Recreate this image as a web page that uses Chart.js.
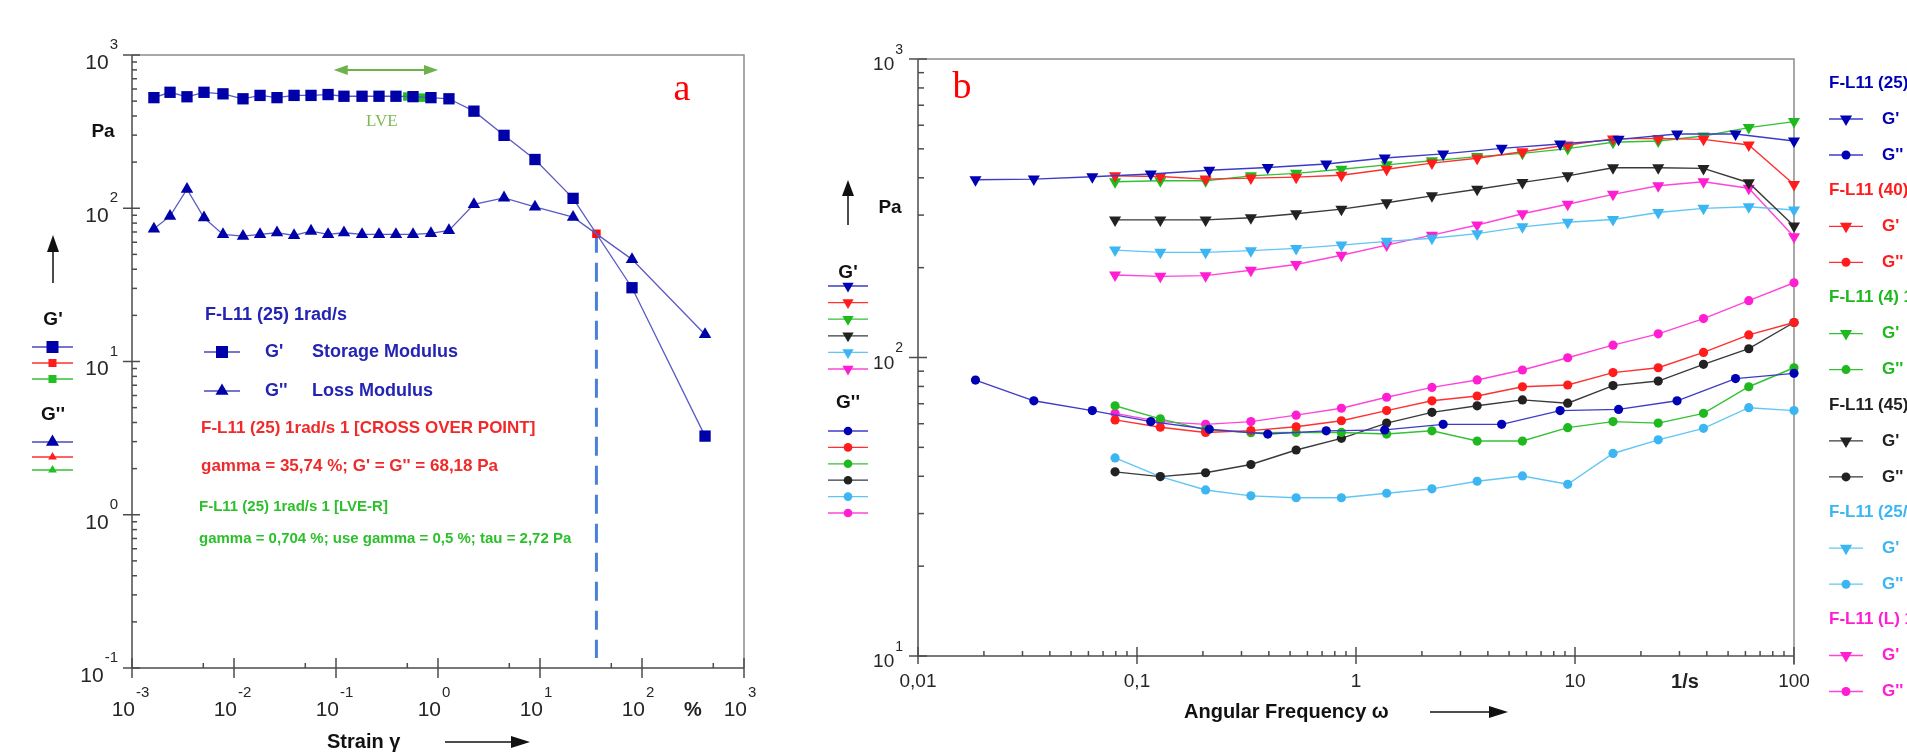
<!DOCTYPE html>
<html>
<head>
<meta charset="utf-8">
<script src="https://cdn.jsdelivr.net/npm/chart.js@4/dist/chart.umd.min.js"></script>
<style>
html, body { margin: 0; padding: 0; background: #fff; overflow: hidden; }
#ca { position: absolute; left: 0; top: 0; }
#cb { position: absolute; left: 810px; top: 0; }
</style>
</head>
<body>
<canvas id="ca" width="810" height="755"></canvas>
<canvas id="cb" width="1097" height="755"></canvas>
<script>
// ---- panel a: amplitude sweep (strain %, Pa)
const strain = [0.00164, 0.00236, 0.00346, 0.00508, 0.0078, 0.01225, 0.018, 0.0264, 0.0388, 0.0569, 0.0836, 0.1197,
  0.18, 0.264, 0.387, 0.569, 0.853, 1.28, 2.25, 4.44, 8.93, 21.1, 79.8, 415];
const storageMod = [527, 571, 534, 571, 558, 518, 545, 527, 545, 545, 552, 538,
  538, 538, 538, 535, 527, 518, 430, 299, 208, 116, 30.3, 3.26];
const lossMod = [73.4, 88.8, 133, 86.7, 67.5, 65.8, 67.5, 69.2, 66.5, 71, 67.5, 69.2,
  67.5, 67.5, 67.5, 67.5, 68.5, 71.6, 106, 117, 102, 87.5, 46.4, 15];
const crossStrain = [35.74];
const crossG = [68.18];
const lveStrain = [0.5, 0.704];
const lveG = [536, 527];
const lveRange = [0.095, 1];
const expAx = [-3, -2, -1, 0, 1, 2, 3];
const expAy = [-1, 0, 1, 2, 3];

// ---- panel b: frequency sweep (1/s, Pa)
const freq25 = [0.0183, 0.0338, 0.0625, 0.1156, 0.2138, 0.3954, 0.7311, 1.352, 2.5, 4.624, 8.551, 15.81, 29.24, 54.08, 100];
const freq = [0.0794, 0.1278, 0.2057, 0.3311, 0.5329, 0.8577, 1.38, 2.222, 3.575, 5.754, 9.261, 14.91, 23.99, 38.61, 62.15, 100];
const samples = ["F-L11 (25) 1", "F-L11 (40) 1", "F-L11 (4) 1", "F-L11 (45) 1", "F-L11 (25/45) 1", "F-L11 (L) 1"];
const gp25 = [394, 396, 403, 412, 424, 433, 445, 466, 481, 502, 519, 538, 561, 561, 531];
const gpp25 = [84, 71.6, 66.4, 61, 57.5, 55.4, 56.8, 57.2, 59.7, 59.7, 66.4, 67, 71.6, 85, 88.5];
const gp40 = [406, 404, 396, 399, 402, 408, 427, 448, 465, 489, 515, 540, 542, 538, 515, 380];
const gpp40 = [61.8, 58.4, 56.1, 56.9, 58.6, 61.4, 66.4, 71.6, 74.3, 79.8, 80.9, 89, 92.4, 104, 119, 131];
const gp4 = [388, 391, 391, 406, 414, 427, 442, 456, 471, 483, 501, 526, 531, 552, 589, 617];
const gpp4 = [68.9, 62.3, 57.2, 56, 56.1, 56.1, 55.4, 56.8, 52.5, 52.5, 58.2, 61, 60.3, 65, 79.8, 92.4];
const gp45 = [289, 289, 289, 294, 303, 314, 330, 348, 366, 386, 406, 432, 432, 430, 385, 276];
const gpp45 = [41.4, 39.9, 41.1, 43.8, 49, 53.6, 60.3, 65.5, 68.9, 72.1, 70.3, 80.5, 83.4, 94.9, 107, 131];
const gp2545 = [229, 225, 225, 228, 232, 238, 245, 251, 260, 274, 284, 290, 306, 316, 320, 312];
const gpp2545 = [46.1, 39.9, 36, 34.4, 33.9, 33.9, 35.1, 36.3, 38.5, 40.1, 37.6, 47.7, 53, 57.9, 67.9, 66.4];
const gpL = [189, 187, 188, 196, 205, 220, 238, 257, 278, 303, 326, 352, 376, 388, 369, 254];
const gppL = [65, 61, 59.7, 61, 64.1, 67.6, 73.6, 79.4, 84.1, 90.8, 99.8, 110, 120, 135, 155, 178];
const decB = [0.01, 0.1, 1, 10, 100];
const labB = ["0,01", "0,1", "1", "10", "100"];
const expBy = [1, 2, 3];

const FONT = '"Liberation Sans", Arial, sans-serif';
const SERIF = '"Liberation Serif", "Times New Roman", serif';
const markC = ["#0000b4", "#ff1c1c", "#1fb81f", "#222222", "#3cb6f2", "#ff1ed2"];
const lineC = ["#3c3cc8", "#ff3030", "#34c234", "#3a3a3a", "#62c6f4", "#ff44da"];
const LBL = "#262626";

const pts = (xs, ys) => xs.map((x, i) => ({x: x, y: ys[i]}));

function seg(ctx, x1, y1, x2, y2) {
  ctx.beginPath(); ctx.moveTo(x1, y1); ctx.lineTo(x2, y2); ctx.stroke();
}
function head(ctx, x1, y1, x2, y2, len, half) {
  const a = Math.atan2(y2 - y1, x2 - x1);
  const bx = x2 - Math.cos(a) * len, by = y2 - Math.sin(a) * len;
  ctx.beginPath();
  ctx.moveTo(x2, y2);
  ctx.lineTo(bx + Math.sin(a) * half, by - Math.cos(a) * half);
  ctx.lineTo(bx - Math.sin(a) * half, by + Math.cos(a) * half);
  ctx.closePath(); ctx.fill();
}
function arrow(ctx, x1, y1, x2, y2, color, len, half, lw) {
  ctx.strokeStyle = color; ctx.fillStyle = color; ctx.lineWidth = lw;
  seg(ctx, x1, y1, x2 - (x2 - x1) * 0.1, y2 - (y2 - y1) * 0.1);
  head(ctx, x1, y1, x2, y2, len, half);
}
function txt(ctx, s, x, y, font, color, align) {
  ctx.font = font; ctx.fillStyle = color;
  ctx.textAlign = align || "left"; ctx.textBaseline = "middle";
  ctx.fillText(s, x, y);
}
function mark(ctx, style, x, y, r, color) {
  ctx.fillStyle = color; ctx.beginPath();
  if (style === "rect") ctx.rect(x - r, y - r, 2 * r, 2 * r);
  else if (style === "tri") { ctx.moveTo(x, y - r); ctx.lineTo(x + r * 0.87, y + r / 2); ctx.lineTo(x - r * 0.87, y + r / 2); ctx.closePath(); }
  else if (style === "down") { ctx.moveTo(x, y + r); ctx.lineTo(x + r * 0.87, y - r / 2); ctx.lineTo(x - r * 0.87, y - r / 2); ctx.closePath(); }
  else ctx.arc(x, y, r, 0, Math.PI * 2);
  ctx.fill();
}
function legendRow(ctx, x1, x2, y, color, lineColor, style, r) {
  ctx.strokeStyle = lineColor; ctx.lineWidth = 1.3;
  seg(ctx, x1, y, x2, y);
  mark(ctx, style, (x1 + x2) / 2, y, r, color);
}
// 10 with superscript exponent, right aligned group
function powY(ctx, e, xr, y, big, small, dyBase, dyExp) {
  ctx.font = small;
  const w = ctx.measureText(String(e)).width;
  txt(ctx, String(e), xr - w, y + dyExp, small, LBL, "left");
  txt(ctx, "10", xr - w - 1, y + dyBase, big, LBL, "right");
}

// ---------------- panel a ----------------
const frameA = {
  id: "frameA",
  beforeDatasetsDraw(chart) {
    const {ctx, chartArea: a, scales: {x, y}} = chart;
    ctx.save();
    ctx.lineWidth = 1.5;
    ctx.strokeStyle = "#8c8c8c";
    ctx.beginPath(); ctx.moveTo(a.left, a.top); ctx.lineTo(a.right, a.top); ctx.lineTo(a.right, a.bottom); ctx.stroke();
    ctx.strokeStyle = "#4c4c4c";
    ctx.beginPath(); ctx.moveTo(a.left, a.top); ctx.lineTo(a.left, a.bottom); ctx.lineTo(a.right, a.bottom); ctx.stroke();
    expAy.forEach(e => {
      const py = y.getPixelForValue(Math.pow(10, e));
      seg(ctx, a.left - 9, py, a.left + 8, py);
      if (e < 3) for (let m = 2; m < 10; m++) {
        const q = y.getPixelForValue(m * Math.pow(10, e));
        seg(ctx, a.left, q, a.left + 5, q);
      }
      powY(ctx, e, 118, py, "21px " + FONT, "15px " + FONT, 8, -10);
    });
    expAx.forEach(e => {
      const px = x.getPixelForValue(Math.pow(10, e));
      seg(ctx, px, a.bottom - 10, px, a.bottom + 10);
      if (e < 3) {
        const q = x.getPixelForValue(5 * Math.pow(10, e));
        seg(ctx, q, a.bottom - 5, q, a.bottom);
      }
      txt(ctx, "10", px + 3, 710, "21px " + FONT, LBL, "right");
      txt(ctx, String(e), px + 4, 693, "15px " + FONT, LBL, "left");
    });
    // crossover guide
    const cx = x.getPixelForValue(crossStrain[0]);
    ctx.strokeStyle = "#4a80d8"; ctx.lineWidth = 3; ctx.setLineDash([19, 10]);
    seg(ctx, cx, y.getPixelForValue(crossG[0]), cx, a.bottom - 10);
    ctx.setLineDash([]);
    ctx.restore();
  },
  afterDatasetsDraw(chart) {
    const {ctx, scales: {x}} = chart;
    ctx.save();
    // LVE range arrow
    const l1 = x.getPixelForValue(lveRange[0]), l2 = x.getPixelForValue(lveRange[1]);
    ctx.strokeStyle = "#6db24a"; ctx.fillStyle = "#6db24a"; ctx.lineWidth = 2;
    seg(ctx, l1 + 8, 70, l2 - 8, 70);
    head(ctx, l2, 70, l1, 70, 14, 5);
    head(ctx, l1, 70, l2, 70, 14, 5);
    txt(ctx, "LVE", (l1 + l2) / 2 - 4, 122, "17px " + SERIF, "#7cba55", "center");
    txt(ctx, "a", 682, 90, "38px " + SERIF, "#ff0000", "center");
    // axis captions
    txt(ctx, "Pa", 103, 132, "bold 19px " + FONT, "#111", "center");
    txt(ctx, "%", 693, 710, "bold 20px " + FONT, "#222", "center");
    txt(ctx, "Strain \u03b3", 327, 742, "bold 20px " + FONT, "#111", "left");
    arrow(ctx, 445, 742, 530, 742, "#111", 19, 6, 1.5);
    arrow(ctx, 53, 283, 53, 235, "#111", 17, 6, 1.5);
    // left legend
    txt(ctx, "G'", 53, 320, "bold 19px " + FONT, "#111", "center");
    legendRow(ctx, 32, 73, 347, "#0000a8", "#4848c0", "rect", 6);
    legendRow(ctx, 32, 73, 363, "#ff1c1c", "#ff3030", "rect", 4);
    legendRow(ctx, 32, 73, 379, "#1fc01f", "#34c234", "rect", 4);
    txt(ctx, "G''", 53, 415, "bold 19px " + FONT, "#111", "center");
    legendRow(ctx, 32, 73, 442, "#0000a8", "#4848c0", "tri", 7.5);
    legendRow(ctx, 32, 73, 457, "#ff1c1c", "#ff3030", "tri", 5);
    legendRow(ctx, 32, 73, 470, "#1fc01f", "#34c234", "tri", 5);
    // inner legend / annotations
    const blue = "#2424b4", red = "#f02a2a", green = "#2cc02c";
    txt(ctx, "F-L11 (25) 1rad/s", 205, 315, "bold 18px " + FONT, blue);
    legendRow(ctx, 204, 240, 352, "#0000a8", "#4848c0", "rect", 6);
    txt(ctx, "G'", 265, 352, "bold 18px " + FONT, blue);
    txt(ctx, "Storage Modulus", 312, 352, "bold 18px " + FONT, blue);
    legendRow(ctx, 204, 240, 391, "#0000a8", "#4848c0", "tri", 7.5);
    txt(ctx, "G''", 265, 391, "bold 18px " + FONT, blue);
    txt(ctx, "Loss Modulus", 312, 391, "bold 18px " + FONT, blue);
    txt(ctx, "F-L11 (25) 1rad/s 1 [CROSS OVER POINT]", 201, 428, "bold 17px " + FONT, red);
    txt(ctx, "gamma = 35,74 %; G' = G'' = 68,18 Pa", 201, 466, "bold 17px " + FONT, red);
    txt(ctx, "F-L11 (25) 1rad/s 1 [LVE-R]", 199, 507, "bold 15px " + FONT, green);
    txt(ctx, "gamma = 0,704 %; use gamma = 0,5 %; tau = 2,72 Pa", 199, 539, "bold 15px " + FONT, green);
    ctx.restore();
  }
};

new Chart(document.getElementById("ca"), {
  type: "scatter",
  data: {
    datasets: [
      { label: "G' Storage Modulus", data: pts(strain, storageMod), showLine: true, borderColor: "#5a5ac4", borderWidth: 1.3,
        pointStyle: "rect", pointRadius: 8, pointBackgroundColor: "#0000a8", pointBorderColor: "#0000a8", pointBorderWidth: 0, clip: false },
      { label: "G'' Loss Modulus", data: pts(strain, lossMod), showLine: true, borderColor: "#5a5ac4", borderWidth: 1.3,
        pointStyle: "triangle", pointRadius: 7.2, pointBackgroundColor: "#0000a8", pointBorderColor: "#0000a8", pointBorderWidth: 0, clip: false },
      { label: "LVE-R", data: pts(lveStrain, lveG), showLine: false,
        pointStyle: "rect", pointRadius: 6, pointBackgroundColor: "#1fc01f", pointBorderWidth: 0, clip: false },
      { label: "Cross over point", data: pts(crossStrain, crossG), showLine: false,
        pointStyle: "rect", pointRadius: 6, pointBackgroundColor: "#ff1010", pointBorderWidth: 0, clip: false }
    ]
  },
  options: {
    responsive: false, animation: false, events: [],
    layout: { autoPadding: false, padding: { left: 132, top: 55, right: 66, bottom: 87 } },
    scales: {
      x: { type: "logarithmic", min: 0.001, max: 1000, display: false },
      y: { type: "logarithmic", min: 0.1, max: 1000, display: false }
    },
    plugins: { legend: { display: false }, tooltip: { enabled: false } }
  },
  plugins: [frameA]
});

// ---------------- panel b ----------------
const OFF = 810;
const frameB = {
  id: "frameB",
  beforeDatasetsDraw(chart) {
    const {ctx, chartArea: a, scales: {x, y}} = chart;
    ctx.save();
    ctx.lineWidth = 1.5;
    ctx.strokeStyle = "#8c8c8c";
    ctx.beginPath(); ctx.moveTo(a.left, a.top); ctx.lineTo(a.right, a.top); ctx.lineTo(a.right, a.bottom + 9); ctx.stroke();
    ctx.strokeStyle = "#4c4c4c";
    ctx.beginPath(); ctx.moveTo(a.left, a.top); ctx.lineTo(a.left, a.bottom); ctx.lineTo(a.right, a.bottom); ctx.stroke();
    expBy.forEach(e => {
      const py = y.getPixelForValue(Math.pow(10, e));
      seg(ctx, a.left - 9, py, a.left + 9, py);
      if (e < 3) for (let m = 2; m < 10; m++) {
        const q = y.getPixelForValue(m * Math.pow(10, e));
        seg(ctx, a.left, q, a.left + 6, q);
      }
      powY(ctx, e, 903 - OFF, py, "19px " + FONT, "14px " + FONT, 6, -9);
    });
    decB.forEach((d, i) => {
      const px = x.getPixelForValue(d);
      seg(ctx, px, a.bottom - 9, px, a.bottom + 8);
      if (i < decB.length - 1) for (let m = 2; m < 10; m++) {
        const q = x.getPixelForValue(m * d);
        seg(ctx, q, a.bottom - 5, q, a.bottom);
      }
      txt(ctx, labB[i], px, 682, "19px " + FONT, LBL, "center");
    });
    ctx.restore();
  },
  afterDatasetsDraw(chart) {
    const {ctx} = chart;
    ctx.save();
    txt(ctx, "b", 962 - OFF, 88, "38px " + SERIF, "#ff0000", "center");
    txt(ctx, "Pa", 890 - OFF, 208, "bold 19px " + FONT, "#111", "center");
    txt(ctx, "1/s", 1685 - OFF, 682, "bold 20px " + FONT, "#222", "center");
    txt(ctx, "Angular Frequency \u03c9", 1184 - OFF, 712, "bold 20px " + FONT, "#111", "left");
    arrow(ctx, 1430 - OFF, 712, 1508 - OFF, 712, "#111", 19, 6, 1.5);
    arrow(ctx, 848 - OFF, 225, 848 - OFF, 180, "#111", 16, 6, 1.5);
    txt(ctx, "G'", 848 - OFF, 273, "bold 19px " + FONT, "#111", "center");
    txt(ctx, "G''", 848 - OFF, 403, "bold 19px " + FONT, "#111", "center");
    samples.forEach((s, i) => {
      legendRow(ctx, 828 - OFF, 868 - OFF, 286 + i * 16.6, markC[i], lineC[i], "down", 6.5);
      legendRow(ctx, 828 - OFF, 868 - OFF, 431 + i * 16.4, markC[i], lineC[i], "circle", 4.3);
      const hy = 83 + i * 107.3;
      txt(ctx, s, 1829 - OFF, hy, "bold 17px " + FONT, markC[i]);
      legendRow(ctx, 1829 - OFF, 1863 - OFF, hy + 36, markC[i], lineC[i], "down", 7);
      txt(ctx, "G'", 1882 - OFF, hy + 36, "bold 17px " + FONT, markC[i]);
      legendRow(ctx, 1829 - OFF, 1863 - OFF, hy + 72, markC[i], lineC[i], "circle", 4.5);
      txt(ctx, "G''", 1882 - OFF, hy + 72, "bold 17px " + FONT, markC[i]);
    });
    ctx.restore();
  }
};

const storeB = [gp25, gp40, gp4, gp45, gp2545, gpL];
const lossB = [gpp25, gpp40, gpp4, gpp45, gpp2545, gppL];
const dsB = [];
samples.forEach((s, i) => {
  const xs = i === 0 ? freq25 : freq;
  dsB.push({ label: s + " G'", data: pts(xs, storeB[i]), showLine: true, borderColor: lineC[i], borderWidth: 1.4,
    pointStyle: "triangle", rotation: 180, pointRadius: 7, pointBackgroundColor: markC[i], pointBorderWidth: 0, clip: false });
  dsB.push({ label: s + " G''", data: pts(xs, lossB[i]), showLine: true, borderColor: lineC[i], borderWidth: 1.4,
    pointStyle: "circle", pointRadius: 4.6, pointBackgroundColor: markC[i], pointBorderWidth: 0, clip: false });
});

new Chart(document.getElementById("cb"), {
  type: "scatter",
  data: { datasets: dsB },
  options: {
    responsive: false, animation: false, events: [],
    layout: { autoPadding: false, padding: { left: 918 - OFF, top: 59, right: 1097 - (1794 - OFF), bottom: 755 - 656 } },
    scales: {
      x: { type: "logarithmic", min: 0.01, max: 100, display: false },
      y: { type: "logarithmic", min: 10, max: 1000, display: false }
    },
    plugins: { legend: { display: false }, tooltip: { enabled: false } }
  },
  plugins: [frameB]
});
</script>
</body>
</html>
